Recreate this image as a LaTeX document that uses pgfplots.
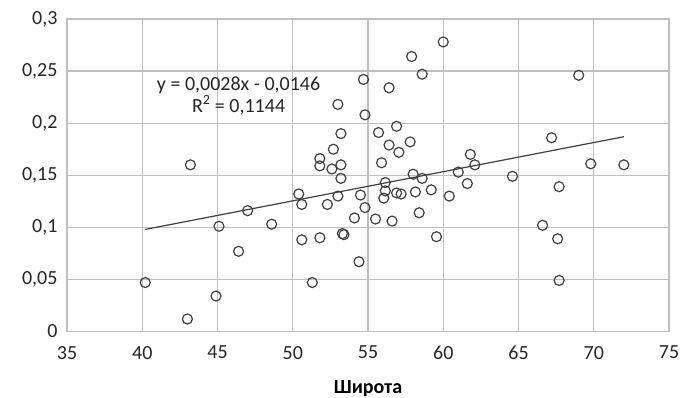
\documentclass[border=0pt]{standalone}
\usepackage{pgfplots}
\pgfplotsset{compat=1.18}
\usepackage{fontspec}
\setmainfont{Carlito}
\definecolor{gridc}{HTML}{BFBFBF}
\definecolor{markc}{HTML}{404040}
\begin{document}
\begin{tikzpicture}
\begin{axis}[
  scale only axis,
  width=602pt, height=312.5pt,
  xmin=35, xmax=75, ymin=0, ymax=0.3,
  xtick={35,40,...,75},
  ytick={0,0.05,0.1,0.15,0.2,0.25,0.3},
  yticklabels={0,{0,05},{0,1},{0,15},{0,2},{0,25},{0,3}},
  xticklabels={35,40,45,50,55,60,65,70,75},
  grid=major,
  major grid style={color=gridc, line width=1.2pt},
  axis line style={color=gridc, line width=1.2pt},
  major tick length=0pt,
  tick label style={font=\fontsize{20}{24}\selectfont, text=black!85},
  yticklabel style={xshift=-6pt},
  xticklabel style={yshift=-11pt},
  xlabel={\textbf{Широта}},
  xlabel style={font=\fontsize{20}{24}\selectfont, yshift=-14pt},
  clip=false,
]
\addplot[only marks, mark=o, mark size=5pt, mark options={draw=markc, line width=1.2pt}] table {
40.2 0.047
43.0 0.012
43.2 0.160
44.9 0.034
45.1 0.101
46.4 0.077
47.0 0.116
48.6 0.103
50.4 0.132
50.6 0.122
50.6 0.088
51.3 0.047
51.8 0.090
51.8 0.166
51.8 0.159
52.3 0.122
52.6 0.156
52.7 0.175
53.0 0.130
53.0 0.218
53.2 0.190
53.2 0.160
53.2 0.147
53.3 0.094
53.4 0.093
54.1 0.109
54.4 0.067
54.5 0.131
54.7 0.242
54.8 0.119
54.8 0.208
55.5 0.108
55.7 0.191
55.9 0.162
56.05 0.128
56.15 0.143
56.15 0.135
56.4 0.234
56.4 0.179
56.6 0.106
56.9 0.197
56.9 0.133
57.05 0.172
57.2 0.132
57.8 0.182
57.9 0.264
58.0 0.151
58.15 0.134
58.4 0.114
58.6 0.247
58.6 0.147
59.2 0.136
59.55 0.091
60.0 0.278
60.4 0.130
61.0 0.153
61.6 0.142
61.8 0.170
62.1 0.160
64.6 0.149
66.6 0.102
67.2 0.186
67.6 0.089
67.7 0.049
67.7 0.139
69.0 0.246
69.8 0.161
72.0 0.160
};
\addplot[color=markc, line width=1.2pt] coordinates {(40.2,0.0980) (72.0,0.1870)};
\node[align=center, font=\fontsize{20}{22}\selectfont, text=black!85] at (axis cs:46.4,0.2265) {y = 0,0028x - 0,0146\\R\textsuperscript{2} = 0,1144};
\end{axis}
\pgfresetboundingbox
\path[use as bounding box] (-67pt,-65.5pt) rectangle (614pt,331.5pt);
\end{tikzpicture}
\end{document}
